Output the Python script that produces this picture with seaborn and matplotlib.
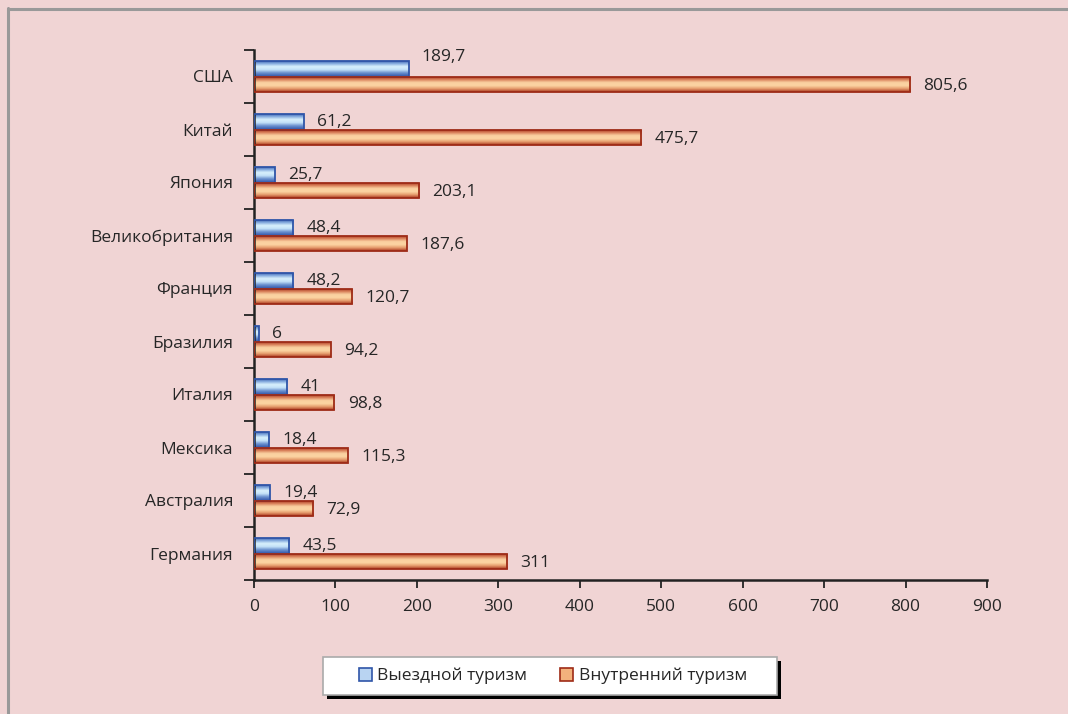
import numpy as np
import pandas as pd
import matplotlib
matplotlib.use("Agg")
import matplotlib.pyplot as plt
import seaborn as sns
from matplotlib.colors import LinearSegmentedColormap
from matplotlib.patches import Rectangle, Patch
from matplotlib.lines import Line2D

countries = ["США", "Китай", "Япония", "Великобритания", "Франция",
             "Бразилия", "Италия", "Мексика", "Австралия", "Германия"]
outbound = [189.7, 61.2, 25.7, 48.4, 48.2, 6, 41, 18.4, 19.4, 43.5]
domestic = [805.6, 475.7, 203.1, 187.6, 120.7, 94.2, 98.8, 115.3, 72.9, 311]
series_names = ["Выездной туризм", "Внутренний туризм"]
x_ticks = [0, 100, 200, 300, 400, 500, 600, 700, 800, 900]

BG = "#F0D4D4"
FONT = ["Open Sans", "DejaVu Sans"]
FS = 12.5

sns.set_theme(style="white")
plt.rcParams["font.family"] = FONT
plt.rcParams["axes.facecolor"] = BG

df = pd.DataFrame({
    "country": countries * 2,
    "value": outbound + domestic,
    "series": [series_names[0]] * len(countries) + [series_names[1]] * len(countries),
})

fig = plt.figure(figsize=(10.68, 7.14), dpi=100, facecolor=BG)
ax = fig.add_axes([254 / 1068, 1 - 580 / 714, (987 - 254) / 1068, 530 / 714])
ax.set_facecolor(BG)

blue_edge = "#2F55A8"
red_edge = "#9E2B17"
sns.barplot(data=df, y="country", x="value", hue="series", orient="h",
            palette=["#A9C8EE", "#F6B880"], width=0.6, gap=0,
            ax=ax, legend=False, order=countries, hue_order=series_names,
            linewidth=1.2, edgecolor="none")

cm_blue = LinearSegmentedColormap.from_list(
    "b", ["#2A4C9E", "#7FA6DC", "#D8F0FC", "#C4E2F8", "#6D93D0", "#3A5DAE"])
cm_red = LinearSegmentedColormap.from_list(
    "r", ["#9A2A16", "#D77B55", "#FAD0A0", "#FCD4A2", "#E59B6C", "#A8381E"])
grad = np.linspace(0, 1, 64).reshape(-1, 1)

ax.set_xlim(0, 900)
ax.set_ylim(len(countries) - 0.5, -0.5)

for i, p in enumerate(list(ax.patches)):
    x0, y0 = p.get_x(), p.get_y()
    w, h = p.get_width(), p.get_height()
    if w <= 0:
        continue
    is_blue = i < len(countries)
    cm = cm_blue if is_blue else cm_red
    im = ax.imshow(grad, cmap=cm, aspect="auto",
                   extent=[x0, x0 + w, y0 + h, y0], zorder=2, interpolation="bilinear")
    im.set_clip_path(p)
    ax.add_patch(Rectangle((x0, y0), w, h, fill=False,
                           edgecolor=blue_edge if is_blue else red_edge,
                           linewidth=1.3, zorder=3))
    val = w
    lab = f"{val:g}".replace(".", ",")
    yc = y0 + h / 2
    if is_blue and i == 0:
        yc -= 0.22
    elif not is_blue:
        yc += 0.03
    ax.annotate(lab, (x0 + w, yc), xytext=(9.5, 0), textcoords="offset points",
                ha="left", va="center", fontsize=FS, color="#262626",
                family=FONT, zorder=4)

ax.set_xlim(0, 900)
ax.set_ylim(len(countries) - 0.5, -0.5)
ax.set_xticks(x_ticks)
ax.set_xticklabels([str(t) for t in x_ticks], fontsize=FS, color="#262626")
ax.set_yticks(range(len(countries)))
ax.set_yticklabels(countries, fontsize=FS, color="#262626")
ax.set_yticks(np.arange(-0.5, len(countries), 1), minor=True)
ax.tick_params(axis="y", which="major", length=0, pad=15)
ax.tick_params(axis="y", which="minor", length=7, width=1.3, color="#222222", direction="out", left=True)
ax.tick_params(axis="x", which="major", length=6, width=1.3, color="#222222", direction="out", bottom=True, pad=8)
ax.set_xlabel("")
ax.set_ylabel("")
for s in ["top", "right"]:
    ax.spines[s].set_visible(False)
for s in ["left", "bottom"]:
    ax.spines[s].set_visible(True)
    ax.spines[s].set_color("#222222")
    ax.spines[s].set_linewidth(1.8)

# outer frame lines
fig.add_artist(Line2D([8 / 1068, 8 / 1068], [0, 1 - 8 / 714], transform=fig.transFigure,
                      color="#999999", linewidth=2.2))
fig.add_artist(Line2D([8 / 1068, 1], [1 - 8.5 / 714, 1 - 8.5 / 714], transform=fig.transFigure,
                      color="#999999", linewidth=2.2))

# legend box with shadow
lx0, ly0, lx1, ly1 = 323, 657, 777, 695
fig.add_artist(Rectangle(((lx0 + 4) / 1068, 1 - (ly1 + 4) / 714), (lx1 - lx0) / 1068,
                         (ly1 - ly0) / 714, transform=fig.transFigure,
                         facecolor="black", edgecolor="none", zorder=5))
fig.add_artist(Rectangle((lx0 / 1068, 1 - ly1 / 714), (lx1 - lx0) / 1068,
                         (ly1 - ly0) / 714, transform=fig.transFigure,
                         facecolor="white", edgecolor="#AAAAAA", linewidth=1.2, zorder=6))
handles = [Patch(facecolor="#B9D4F2", edgecolor=blue_edge, linewidth=1.2),
           Patch(facecolor="#F3B27C", edgecolor=red_edge, linewidth=1.2)]
leg = fig.legend(handles, series_names, loc="center", ncol=2,
                 bbox_to_anchor=(553 / 1068, 1 - 676 / 714), frameon=False,
                 handlelength=0.75, handleheight=0.75,
                 handletextpad=0.3, columnspacing=1.9, prop={"family": FONT, "size": FS})
leg.set_zorder(7)
for t in leg.get_texts():
    t.set_color("#262626")

fig.savefig("out.png", dpi=100, facecolor=BG)
